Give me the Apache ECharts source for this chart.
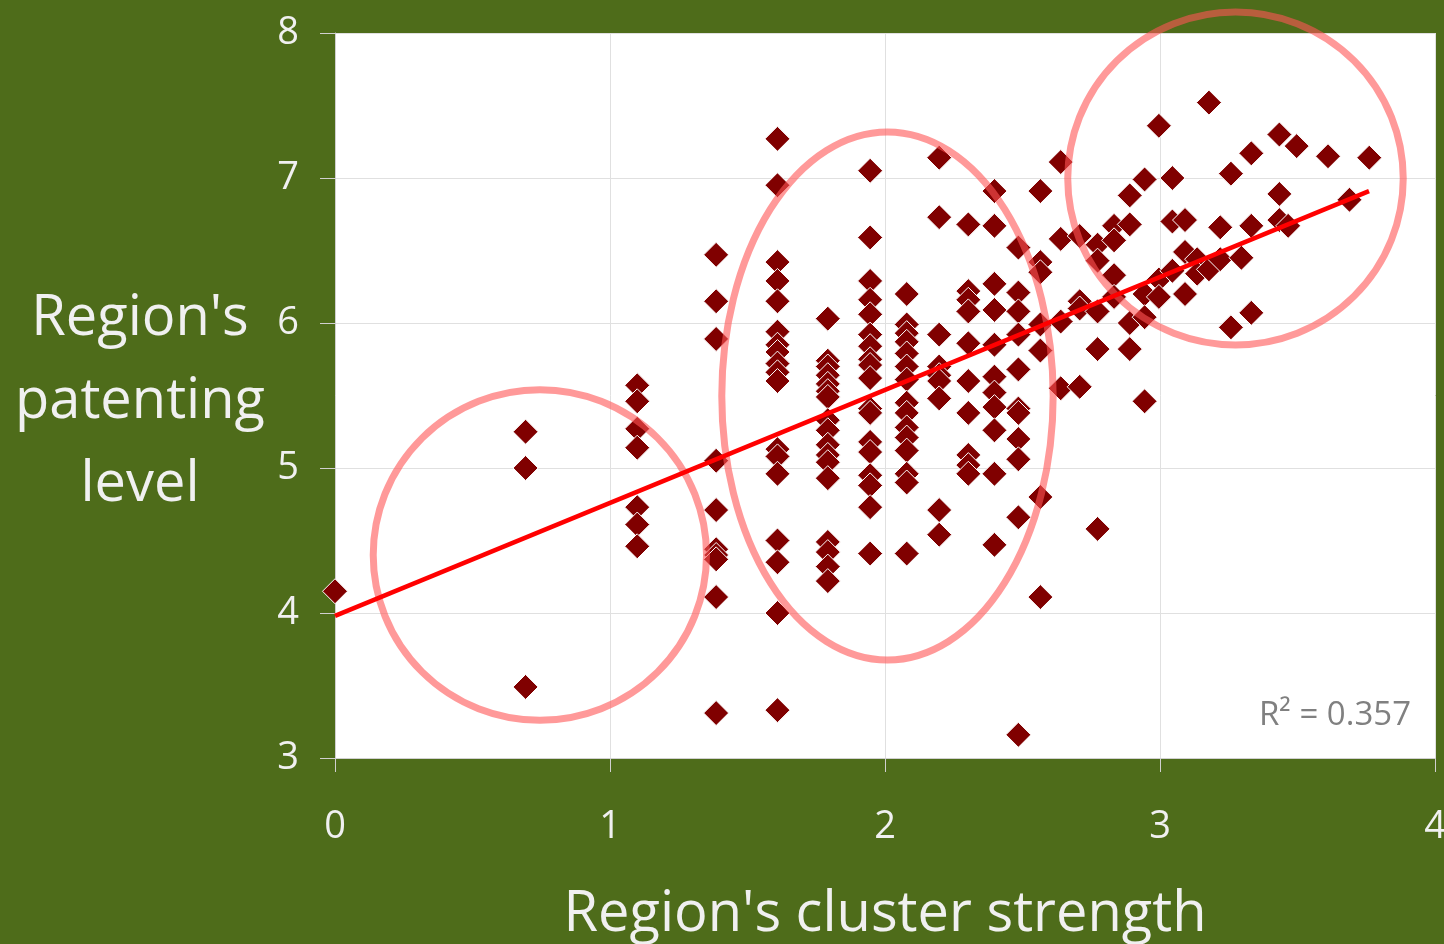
<!DOCTYPE html>
<html>
<head>
<meta charset="utf-8">
<script src="https://cdn.jsdelivr.net/npm/echarts@6/dist/echarts.min.js"></script>
<style>
html,body{margin:0;padding:0;background:#4E6C1A;}
#chart{width:1444px;height:944px;}
</style>
</head>
<body>
<div id="chart"></div>
<script>
// x levels (region's cluster strength) and the patenting levels observed at each
const xLevels = [0, 0.693, 1.099, 1.386, 1.609, 1.792, 1.946, 2.079, 2.197, 2.303, 2.398, 2.485, 2.565, 2.639, 2.708, 2.773, 2.833, 2.890, 2.944, 2.996, 3.045, 3.091, 3.135, 3.178, 3.219, 3.258, 3.296, 3.332, 3.434, 3.466, 3.497, 3.611, 3.689, 3.761];
const yByLevel = [
  [4.15],
  [5.25, 5.00, 3.49],
  [5.57, 5.46, 5.27, 5.14, 4.73, 4.61, 4.46],
  [6.47, 6.15, 5.89, 5.05, 4.71, 4.44, 4.40, 4.37, 4.11, 3.31],
  [7.27, 6.95, 6.42, 6.29, 6.15, 5.94, 5.85, 5.80, 5.72, 5.66, 5.60, 5.13, 5.08, 4.96, 4.50, 4.35, 4.00, 3.33],
  [6.03, 5.74, 5.70, 5.64, 5.58, 5.53, 5.49, 5.33, 5.26, 5.16, 5.09, 5.04, 4.93, 4.49, 4.42, 4.32, 4.22],
  [7.05, 6.59, 6.29, 6.16, 6.06, 5.92, 5.84, 5.75, 5.71, 5.62, 5.41, 5.38, 5.18, 5.11, 4.95, 4.88, 4.73, 4.41],
  [6.20, 5.99, 5.93, 5.87, 5.79, 5.70, 5.61, 5.45, 5.38, 5.28, 5.21, 5.12, 4.96, 4.90, 4.41],
  [7.14, 6.73, 5.92, 5.70, 5.64, 5.60, 5.48, 4.71, 4.54],
  [6.68, 6.22, 6.16, 6.08, 5.86, 5.60, 5.38, 5.09, 5.02, 4.96],
  [6.91, 6.67, 6.27, 6.09, 5.85, 5.63, 5.52, 5.42, 5.26, 4.96, 4.47],
  [6.52, 6.21, 6.08, 5.92, 5.68, 5.41, 5.38, 5.20, 5.06, 4.66, 3.16],
  [6.91, 6.42, 6.35, 5.99, 5.81, 4.80, 4.11],
  [7.11, 6.58, 6.01, 5.55],
  [6.60, 6.15, 6.10, 5.56],
  [6.54, 6.43, 6.08, 5.82, 4.58],
  [6.67, 6.57, 6.33, 6.18],
  [6.88, 6.68, 6.00, 5.82],
  [6.99, 6.20, 6.04, 5.46],
  [7.36, 6.30, 6.18],
  [7.00, 6.70, 6.36],
  [6.71, 6.49, 6.20],
  [6.44, 6.34],
  [7.52, 6.37],
  [6.66, 6.44],
  [7.03, 5.97],
  [6.45],
  [7.17, 6.67, 6.07],
  [7.30, 6.89, 6.71],
  [6.67],
  [7.22],
  [7.15],
  [6.85],
  [7.14]
];
// linear trend line end points
const trendX = [0, 3.76];
const trendY = [3.98, 6.91];
// highlight ellipses (centre and radii in data units)
const ellipseCx = [0.745, 2.009, 3.2745];
const ellipseCy = [4.40, 5.497, 6.997];
const ellipseRx = [0.606, 0.6025, 0.610];
const ellipseRy = [1.14, 1.821, 1.148];
// axis ticks and texts
const xTicks = [0, 1, 2, 3, 4];
const yTicks = [3, 4, 5, 6, 7, 8];
const xTitle = "Region's cluster strength";
const yTitle = "Region's\npatenting\nlevel";
const rSquaredText = 'R\u00B2 = 0.357';

const scatterData = [];
xLevels.forEach(function (x, i) {
  yByLevel[i].forEach(function (y) { scatterData.push([x, y]); });
});
const trendData = trendX.map(function (x, i) { return [x, trendY[i]]; });
const ellipseData = ellipseCx.map(function (cx, i) { return [cx, ellipseCy[i], ellipseRx[i], ellipseRy[i]]; });

const FONT = '"Open Sans", "Noto Sans", sans-serif';
const chart = echarts.init(document.getElementById('chart'));
chart.setOption({
  backgroundColor: '#4E6C1A',
  animation: false,
  grid: {left: 335, top: 33, right: 9, bottom: 186, show: true, backgroundColor: '#FFFFFF', borderWidth: 0, containLabel: false, outerBoundsMode: 'none'},
  xAxis: {
    type: 'value', min: xTicks[0], max: xTicks[xTicks.length - 1], interval: 1,
    name: xTitle, nameLocation: 'middle', nameGap: 129,
    nameTextStyle: {color: '#F0F0F0', fontSize: 56, fontFamily: FONT},
    axisLine: {show: true, onZero: false, lineStyle: {color: '#D0D0D0', width: 1}},
    axisTick: {show: true, length: 14, lineStyle: {color: '#D0D0D0'}},
    axisLabel: {color: '#F0F0F0', fontSize: 38, fontFamily: FONT, margin: 50},
    splitLine: {show: true, lineStyle: {color: '#E0E0E0', width: 1}}
  },
  yAxis: {
    type: 'value', min: yTicks[0], max: yTicks[yTicks.length - 1], interval: 1,
    axisLine: {show: true, onZero: false, lineStyle: {color: '#D0D0D0', width: 1}},
    axisTick: {show: true, length: 15, lineStyle: {color: '#D0D0D0'}},
    axisLabel: {color: '#F0F0F0', fontSize: 38, fontFamily: FONT, margin: 36},
    splitLine: {show: true, lineStyle: {color: '#E0E0E0', width: 1}}
  },
  series: [
    {
      type: 'scatter', data: scatterData, symbol: 'diamond', symbolSize: 25, clip: false, z: 2,
      itemStyle: {color: '#800000', borderColor: '#FFFFFF', borderWidth: 1, opacity: 1}
    },
    {
      type: 'custom', data: ellipseData, z: 3, clip: false, silent: true,
      renderItem: function (params, api) {
        const c = api.coord([api.value(0), api.value(1)]);
        const s = api.size([api.value(2), api.value(3)]);
        const rx = s[0], ry = s[1];
        const d = 'M' + (c[0] - rx) + ',' + c[1] +
          ' A' + rx + ',' + ry + ' 0 1,1 ' + (c[0] + rx) + ',' + c[1] +
          ' A' + rx + ',' + ry + ' 0 1,1 ' + (c[0] - rx) + ',' + c[1] + ' Z';
        return {
          type: 'path',
          shape: {pathData: d},
          style: {fill: 'none', stroke: 'rgba(255,85,85,0.6)', lineWidth: 7}
        };
      }
    },
    {
      type: 'line', data: trendData, z: 4, symbol: 'none', silent: true,
      lineStyle: {color: '#FF0000', width: 4.5}
    }
  ],
  graphic: [
    {
      type: 'text', x: 140, y: 402, z: 10,
      style: {text: yTitle, fill: '#F0F0F0', font: '56px ' + FONT, lineHeight: 83, textAlign: 'center', textVerticalAlign: 'middle', align: 'center', verticalAlign: 'middle'}
    },
    {
      type: 'text', right: 33, top: 699, z: 10,
      style: {text: rSquaredText, fill: '#808080', font: '33px ' + FONT}
    }
  ]
});
</script>
</body>
</html>
